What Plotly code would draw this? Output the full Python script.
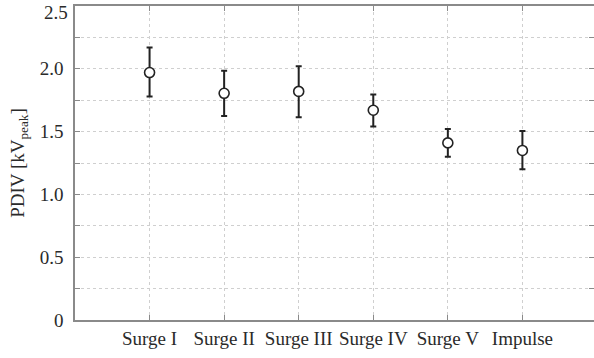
import plotly.graph_objects as go

# Partial discharge inception voltage per waveform
categories = ["Surge I", "Surge II", "Surge III", "Surge IV", "Surge V", "Impulse"]
pdiv_mean = [1.97, 1.805, 1.82, 1.67, 1.41, 1.35]
pdiv_upper = [2.17, 1.985, 2.02, 1.795, 1.52, 1.505]
pdiv_lower = [1.78, 1.625, 1.615, 1.54, 1.30, 1.20]

y_tick_vals = [0, 0.5, 1.0, 1.5, 2.0, 2.5]
y_tick_text = ["0", "0.5", "1.0", "1.5", "2.0", "2.5"]

x_pos = list(range(1, len(categories) + 1))
err_plus = [u - m for u, m in zip(pdiv_upper, pdiv_mean)]
err_minus = [m - l for m, l in zip(pdiv_mean, pdiv_lower)]

font_family = "Liberation Serif, Times New Roman, serif"
text_color = "#2a2a2a"
frame_color = "#8a8a8a"
grid_color = "#cfcfcf"

# the topmost tick label sits at the page edge, so it is drawn as an
# annotation nudged just below its tick instead of as a regular tick label
axis_ticktext = y_tick_text[:-1] + [""]

fig = go.Figure(
    go.Scatter(
        x=x_pos,
        y=pdiv_mean,
        mode="markers",
        marker=dict(symbol="circle", size=10, color="white",
                    line=dict(color="#222222", width=1.6)),
        error_y=dict(type="data", symmetric=False, array=err_plus,
                     arrayminus=err_minus, color="#222222",
                     thickness=2, width=3),
        showlegend=False,
    )
)

fig.add_annotation(
    x=0, xref="paper", xanchor="right", xshift=-5,
    y=y_tick_vals[-1], yref="y", yanchor="middle", yshift=-6,
    text=y_tick_text[-1], showarrow=False,
    font=dict(family=font_family, size=19, color=text_color),
)

fig.update_layout(
    width=594,
    height=358,
    margin=dict(l=75, r=0, t=6, b=38),
    paper_bgcolor="white",
    plot_bgcolor="white",
    font=dict(family=font_family, size=19, color=text_color),
    xaxis=dict(
        range=[0, 6.96],
        tickvals=x_pos,
        ticktext=categories,
        showline=True, linecolor=frame_color, linewidth=1.5, mirror="ticks",
        ticks="inside", ticklen=5, tickcolor=frame_color,
        showgrid=True, gridcolor=grid_color, griddash="dot", gridwidth=1,
        zeroline=False,
        automargin=False,
        tickfont=dict(size=19, color=text_color),
    ),
    yaxis=dict(
        range=[0, 2.5],
        tickvals=y_tick_vals,
        ticktext=axis_ticktext,
        showline=True, linecolor=frame_color, linewidth=1.5, mirror="ticks",
        ticks="inside", ticklen=5, tickcolor=frame_color,
        showgrid=True, gridcolor=grid_color, griddash="dot", gridwidth=1,
        zeroline=False,
        automargin=False,
        ticklabelstandoff=6,
        minor=dict(dtick=0.25, tick0=0, ticks="inside", ticklen=5,
                   tickcolor=frame_color, showgrid=True,
                   gridcolor=grid_color, griddash="dot", gridwidth=1),
        title=dict(text="PDIV [kV<sub>peak</sub>]", standoff=10,
                   font=dict(size=19, color=text_color)),
        tickfont=dict(size=19, color=text_color),
    ),
)

fig.write_html("out.html")
